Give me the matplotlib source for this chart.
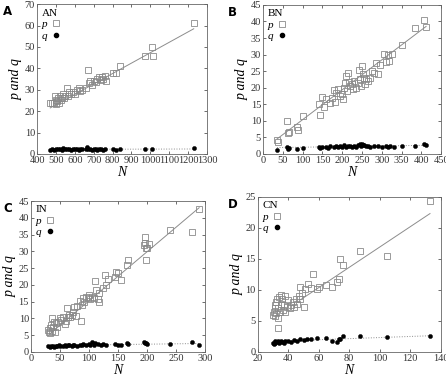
import numpy as np
import matplotlib.pyplot as plt
from matplotlib.lines import Line2D

plt.rcParams["font.family"] = ["Liberation Serif", "DejaVu Serif"]

# =========================================================
# Data (N, p, q) for each network
# =========================================================
# --- AN ---
an_p_N = [470, 480, 490, 495, 500, 500, 505, 510, 515, 520, 525, 530, 540, 545, 550,
          560, 565, 570, 580, 590, 600, 610, 620, 630, 640, 660, 670, 675, 680, 690,
          700, 710, 720, 730, 740, 745, 750, 760, 765, 800, 820, 840, 970, 1010, 1015, 1230]
an_p = [23.7, 23.8, 24.0, 27.0, 23.5, 25.0, 24.5, 26.0, 24.0, 27.0, 25.0, 26.0, 28.0, 26.0, 27.0,
        31.0, 27.0, 29.0, 28.0, 29.0, 28.0, 30.0, 31.0, 29.5, 30.0, 31.0, 39.0, 33.0, 34.0, 32.0,
        34.0, 33.5, 35.0, 36.0, 34.5, 36.0, 35.0, 36.5, 34.0, 38.0, 38.0, 41.0, 46.0, 50.0, 46.0, 61.0]
an_q_N = [470, 480, 490, 500, 510, 520, 530, 540, 550, 560, 570, 580, 590, 600, 610, 620,
          630, 640, 660, 665, 670, 680, 690, 700, 710, 720, 730, 740, 750, 760, 800, 820,
          840, 970, 1010, 1230]
an_q = [2.0, 2.1, 2.0, 2.2, 2.1, 2.3, 2.0, 2.6, 2.2, 2.1, 2.4, 2.0, 2.2, 2.1, 2.3, 2.0,
        2.2, 2.1, 2.4, 3.0, 2.5, 2.2, 2.0, 2.1, 2.3, 2.0, 2.2, 2.1, 2.0, 2.2, 2.1, 2.0,
        2.2, 2.1, 2.2, 2.8]
an_pfit = ([470, 1230], [21.5, 58.5])
an_qfit = ([470, 1230], [2.1, 2.3])

# --- BN ---
bn_p_N = [35, 38, 60, 62, 65, 85, 88, 100, 140, 143, 148, 155, 160, 170, 175, 180, 182,
          185, 190, 195, 200, 202, 205, 207, 210, 212, 215, 218, 220, 225, 228, 230, 235,
          240, 242, 245, 248, 250, 252, 255, 258, 260, 265, 270, 275, 280, 285, 290, 295,
          305, 310, 315, 318, 325, 350, 385, 408, 412]
bn_p = [4.3, 3.7, 10.0, 6.2, 6.5, 8.2, 7.2, 11.5, 15.0, 11.7, 17.2, 14.1, 16.5, 15.5, 17.0, 19.3, 15.8,
        18.5, 19.5, 17.5, 18.2, 16.5, 20.0, 21.5, 23.5, 19.0, 24.3, 21.8, 20.5, 21.0, 19.5, 22.0, 20.0,
        21.5, 25.2, 22.5, 20.5, 26.5, 24.0, 23.0, 21.0, 22.5, 22.0, 23.0, 25.0, 24.5, 27.5, 24.2, 27.0,
        30.3, 27.8, 30.0, 28.0, 30.3, 32.8, 38.0, 40.5, 38.2]
bn_q_N = [35, 60, 62, 65, 85, 100, 140, 145, 150, 160, 165, 170, 180, 185, 190, 195, 200,
          205, 210, 215, 220, 225, 230, 235, 240, 245, 248, 250, 252, 255, 260, 265, 270,
          280, 290, 300, 310, 315, 320, 330, 350, 385, 408, 412]
bn_q = [1.3, 2.0, 1.5, 1.7, 1.6, 1.8, 2.1, 1.9, 2.0, 2.2, 1.9, 2.3, 2.1, 2.4, 2.0, 2.5, 2.2,
        2.6, 2.1, 2.4, 2.3, 2.0, 2.5, 2.2, 2.7, 3.0, 2.4, 3.1, 2.6, 2.8, 2.3, 2.5, 2.2,
        2.4, 2.3, 2.1, 2.5, 2.2, 2.4, 2.2, 2.5, 2.3, 3.0, 2.7]
bn_pfit = ([35, 412], [4.5, 38.5])
bn_qfit = ([35, 412], [1.9, 2.6])

# --- IN ---
in_p_N = [30, 31, 32, 33, 35, 36, 37, 38, 40, 42, 43, 45, 47, 50, 52, 55, 58, 60, 62, 63,
          65, 68, 70, 72, 75, 77, 80, 85, 86, 88, 90, 92, 95, 98, 100, 102, 105, 108, 110,
          112, 115, 117, 118, 125, 127, 130, 132, 145, 147, 150, 155, 165, 168, 195, 196,
          197, 198, 199, 200, 203, 240, 277, 290]
in_p = [6.5, 6.0, 7.0, 5.5, 8.0, 6.2, 10.0, 7.5, 9.0, 6.0, 8.5, 7.5, 9.0, 10.0, 9.5, 10.5, 8.2, 9.3, 13.0, 10.5,
        11.0, 10.5, 11.0, 12.0, 13.5, 10.8, 13.8, 15.3, 9.1, 14.0, 16.0, 15.0, 16.5, 16.0, 17.0, 15.8, 16.5, 16.2, 21.2,
        18.5, 15.8, 17.5, 15.0, 19.0, 22.8, 20.0, 21.6, 22.2, 23.9, 23.5, 21.5, 26.0, 27.5, 31.8, 34.2,
        32.5, 31.0, 27.3, 31.0, 32.3, 36.5, 35.8, 42.5]
in_q_N = [30, 32, 35, 38, 40, 43, 45, 48, 50, 55, 58, 60, 63, 65, 70, 72, 75, 80, 85, 88,
          90, 95, 100, 102, 105, 108, 110, 115, 120, 125, 130, 145, 150, 155, 165, 168,
          195, 196, 198, 200, 240, 277, 290]
in_q = [1.8, 1.6, 1.7, 1.9, 1.6, 1.8, 1.7, 2.0, 1.8, 1.9, 2.1, 1.8, 2.0, 2.2, 1.9, 2.1, 2.0, 1.9, 2.2, 2.0,
        2.3, 2.1, 2.4, 2.0, 2.8, 2.2, 2.5, 2.3, 2.0, 2.4, 2.2, 2.3, 2.1, 2.0, 2.6, 2.4,
        2.9, 2.5, 2.7, 2.4, 2.4, 2.8, 2.1]
in_pfit = ([30, 290], [5.0, 43.0])
in_qfit = ([30, 290], [1.9, 2.5])

# --- CN ---
cn_p_N = [30, 30.5, 31, 31, 31.5, 32, 32, 32.5, 33, 33, 33.5, 34, 34.5, 35, 35, 36, 36.5,
          37, 38, 38, 39, 40, 41, 42, 43, 44, 45, 46, 47, 48, 48, 49, 50, 51, 53, 55,
          56, 59, 60, 65, 69, 72, 73, 74, 76, 87, 105, 133]
cn_p = [6.0, 6.5, 7.0, 5.8, 7.5, 8.0, 6.2, 8.5, 3.8, 7.0, 5.5, 8.8, 6.5, 9.2, 7.8, 8.5, 6.8,
        7.5, 9.0, 6.5, 7.2, 8.3, 7.0, 7.5, 8.0, 7.2, 8.5, 7.8, 9.0, 8.5, 10.5, 9.5, 7.3, 10.2, 11.0, 10.3,
        12.5, 10.2, 10.5, 10.8, 10.4, 11.3, 11.8, 15.0, 14.0, 16.3, 15.5, 24.3]
cn_q_N = [30, 30.5, 31, 31.5, 32, 33, 34, 35, 36, 37, 38, 40, 42, 44, 46, 48, 50, 52,
          55, 59, 65, 69, 72, 73, 74, 76, 87, 105, 133]
cn_q = [1.5, 1.3, 1.7, 1.4, 1.6, 1.8, 1.5, 1.7, 1.6, 1.4, 1.8, 1.7, 1.6, 1.9, 1.8, 2.0, 1.9, 2.0,
        2.0, 2.3, 2.2, 1.7, 1.6, 2.0, 2.1, 2.5, 2.6, 2.4, 2.6]
cn_pfit = ([48, 133], [8.4, 22.3])
cn_qfit = ([30, 133], [1.7, 2.6])

# =========================================================
# Plot
# =========================================================
panels = [
    dict(letter="A", name="AN", pN=an_p_N, p=an_p, qN=an_q_N, q=an_q, pfit=an_pfit, qfit=an_qfit,
         xlim=(400, 1300), xticks=range(400, 1301, 100), ylim=(0, 70), yticks=range(0, 71, 10),
         rect=[0.083, 0.595, 0.381, 0.394], letter_x=0.007),
    dict(letter="B", name="BN", pN=bn_p_N, p=bn_p, qN=bn_q_N, q=bn_q, pfit=bn_pfit, qfit=bn_qfit,
         xlim=(0, 450), xticks=range(0, 451, 50), ylim=(0, 45), yticks=range(0, 46, 5),
         rect=[0.590, 0.595, 0.399, 0.392], letter_x=0.511),
    dict(letter="C", name="IN", pN=in_p_N, p=in_p, qN=in_q_N, q=in_q, pfit=in_pfit, qfit=in_qfit,
         xlim=(0, 300), xticks=range(0, 301, 50), ylim=(0, 45), yticks=range(0, 46, 5),
         rect=[0.0695, 0.074, 0.390, 0.397], letter_x=0.007),
    dict(letter="D", name="CN", pN=cn_p_N, p=cn_p, qN=cn_q_N, q=cn_q, pfit=cn_pfit, qfit=cn_qfit,
         xlim=(20, 140), xticks=range(20, 141, 20), ylim=(0, 25), yticks=range(0, 26, 5),
         rect=[0.578, 0.074, 0.410, 0.408], letter_x=0.511),
]

fig = plt.figure(figsize=(4.46, 3.80), dpi=100)

for pan in panels:
    ax = fig.add_axes(pan["rect"])
    ax.plot(pan["pfit"][0], pan["pfit"][1], color="#8c8c8c", lw=0.7)
    ax.plot(pan["qfit"][0], pan["qfit"][1], color="#8c8c8c", lw=0.7, ls=":")
    ax.plot(pan["pN"], pan["p"], ls="none", marker="s", ms=4.2, mfc="none",
            mec="#8a8a8a", mew=0.6)
    ax.plot(pan["qN"], pan["q"], ls="none", marker="o", ms=3.0, mfc="black",
            mec="black", mew=0.3)

    ax.set_xlim(*pan["xlim"])
    ax.set_ylim(*pan["ylim"])
    ax.set_xticks(list(pan["xticks"]))
    ax.set_yticks(list(pan["yticks"]))
    ax.tick_params(direction="in", top=True, right=True, length=2.5, width=0.5,
                   labelsize=7.5, pad=1.5, colors="#333333")
    for sp in ax.spines.values():
        sp.set_linewidth(0.6)
        sp.set_color("#666666")

    ax.set_xlabel("N", fontsize=10, style="italic", labelpad=1)
    ax.set_ylabel("p and q", fontsize=10, style="italic", labelpad=1)

    handles = [
        Line2D([], [], ls="none", marker="s", ms=4.2, mfc="none", mec="#8a8a8a", mew=0.6),
        Line2D([], [], ls="none", marker="o", ms=3.0, mfc="black", mec="black"),
    ]
    leg = ax.legend(handles, ["p", "q"], title=pan["name"], loc="upper left",
                    frameon=False, markerfirst=False, fontsize=8, title_fontsize=8,
                    handlelength=0.8, handletextpad=0.4, labelspacing=0.15,
                    borderaxespad=0.1, borderpad=0.3, alignment="left")
    for t in leg.get_texts():
        t.set_style("italic")

    bb = ax.get_position()
    fig.text(pan["letter_x"], bb.y1 - 0.003, pan["letter"], family="DejaVu Sans",
             weight="bold", fontsize=8.5, ha="left", va="top")

plt.savefig("out.png", dpi=100)
